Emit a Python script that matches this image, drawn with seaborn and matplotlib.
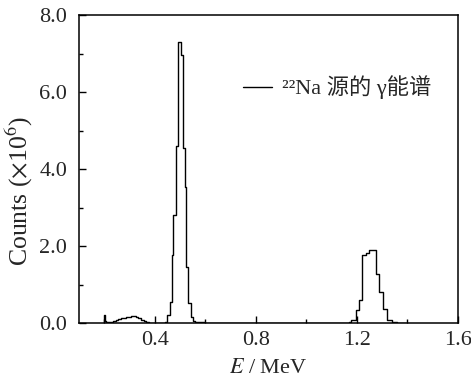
import numpy as np
import pandas as pd
import matplotlib
matplotlib.use("Agg")
import matplotlib.pyplot as plt
import seaborn as sns
from matplotlib.ticker import MultipleLocator, FormatStrFormatter

# Espectro gamma de 22Na: borde izquierdo del canal (MeV) y cuentas (x10^6)
energia = [
    0.199, 0.200, 0.203, 0.207,
    0.215, 0.225, 0.235, 0.245, 0.255, 0.265, 0.275, 0.285, 0.295,
    0.305, 0.315, 0.325, 0.335, 0.345, 0.355, 0.365, 0.375, 0.390,
    0.420, 0.440, 0.4485, 0.459, 0.466, 0.472, 0.482, 0.492, 0.5026,
    0.510, 0.518, 0.525, 0.531, 0.545, 0.551, 0.560, 0.600,
    0.700, 0.800, 0.900, 1.000, 1.100, 1.150, 1.170, 1.178, 1.196,
    1.209, 1.222, 1.235, 1.248, 1.262, 1.275, 1.288, 1.305, 1.320,
    1.340, 1.360, 1.393,
]
cuentas = [
    0.00, 0.20, 0.05, 0.02,
    0.03, 0.04, 0.06, 0.08, 0.10, 0.12, 0.14, 0.16, 0.17,
    0.19, 0.18, 0.16, 0.13, 0.09, 0.05, 0.02, 0.01, 0.005,
    0.01, 0.03, 0.21, 0.55, 1.77, 2.81, 4.60, 7.31, 6.96,
    4.55, 3.54, 1.46, 0.52, 0.16, 0.05, 0.02, 0.015,
    0.015, 0.012, 0.01, 0.01, 0.01, 0.01, 0.03, 0.07, 0.35,
    0.59, 1.76, 1.82, 1.90, 1.91, 1.28, 0.81, 0.37, 0.07,
    0.03, 0.015, 0.00,
]

etiqueta = "²²Na 源的 γ能谱"

df = pd.DataFrame({"energia": energia, "cuentas": cuentas})

sns.set_style("ticks")
plt.rcParams["font.family"] = ["Liberation Serif", "Noto Sans CJK SC"]
plt.rcParams["mathtext.fontset"] = "stix"

fig, ax = plt.subplots(figsize=(4.71, 3.86), dpi=100)
fig.subplots_adjust(left=0.168, right=0.972, top=0.961, bottom=0.163)

sns.lineplot(data=df, x="energia", y="cuentas", drawstyle="steps-post",
             color="black", lw=1.0, ax=ax, label=etiqueta)

ax.set_xlim(0.1, 1.6)
ax.set_ylim(0, 8.0)
ax.xaxis.set_major_locator(MultipleLocator(0.4))
ax.xaxis.set_minor_locator(MultipleLocator(0.2))
ax.yaxis.set_major_locator(MultipleLocator(2.0))
ax.yaxis.set_minor_locator(MultipleLocator(1.0))
ax.xaxis.set_major_formatter(FormatStrFormatter("%.1f"))
ax.yaxis.set_major_formatter(FormatStrFormatter("%.1f"))

ax.tick_params(which="both", direction="in", top=False, right=False,
               labelsize=16, width=1.0, color="black")
ax.tick_params(which="major", length=5)
ax.tick_params(axis="x", which="major", pad=6)
ax.tick_params(axis="y", which="major", pad=8.5)
ax.tick_params(which="minor", length=2.7)
for s in ax.spines.values():
    s.set_linewidth(1.1)
    s.set_color("black")

ax.set_xlabel("$\\it{E}$ / MeV", fontsize=16, labelpad=6)
ax.set_ylabel("Counts ($\\times$10$^6$)", fontsize=18.5)
ax.yaxis.set_label_coords(-0.117, 0.43)

ax.legend(loc="center left", bbox_to_anchor=(0.38, 0.765), frameon=False,
          fontsize=16, handlelength=1.3, handletextpad=0.45)

fig.savefig("out.png", dpi=100)
